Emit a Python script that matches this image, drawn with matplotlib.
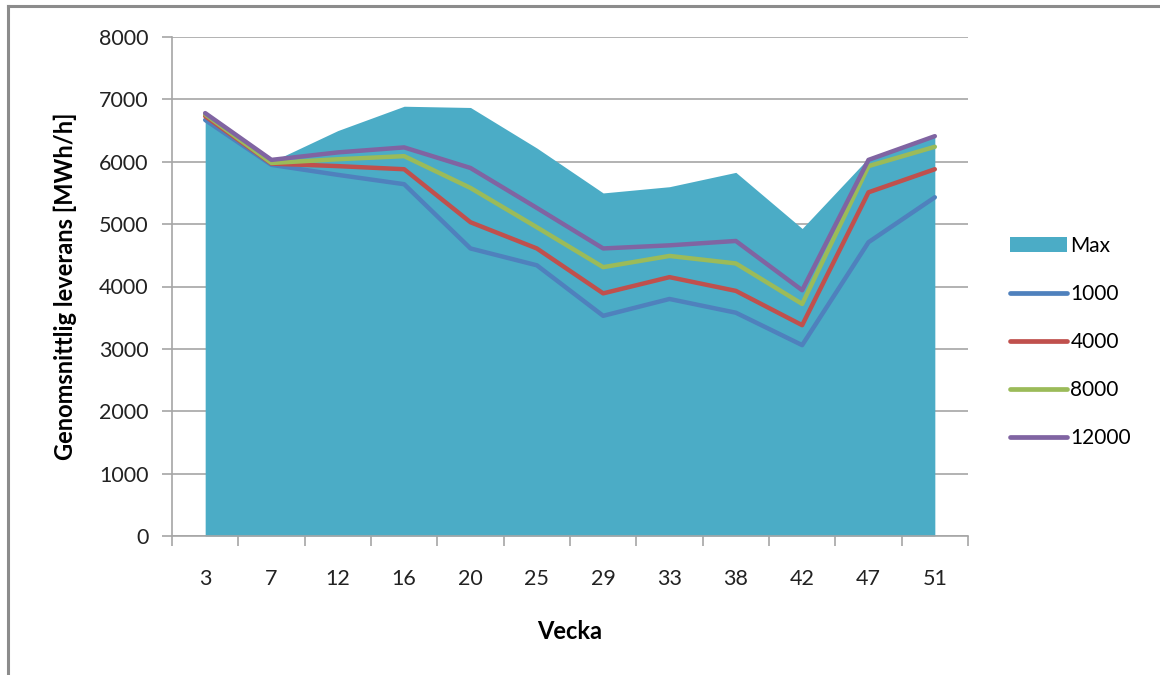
import numpy as np
import matplotlib.pyplot as plt
from matplotlib.lines import Line2D
from matplotlib.patches import Patch

plt.rcParams['font.family'] = ['Lato', 'DejaVu Sans']

weeks = ["3", "7", "12", "16", "20", "25", "29", "33", "38", "42", "47", "51"]
max_vals = [6700, 6000, 6500, 6890, 6870, 6220, 5500, 5600, 5830, 4930, 6060, 6430]
s1000 = [6670, 5950, 5790, 5640, 4610, 4340, 3530, 3800, 3580, 3060, 4710, 5430]
s4000 = [6730, 5970, 5930, 5880, 5030, 4610, 3890, 4150, 3930, 3380, 5510, 5880]
s8000 = [6760, 5980, 6040, 6090, 5580, 4950, 4310, 4490, 4370, 3720, 5930, 6240]
s12000 = [6780, 6030, 6150, 6230, 5900, 5260, 4610, 4660, 4730, 3940, 6030, 6410]

series = [("1000", s1000, "#4F81BD"),
          ("4000", s4000, "#C0504D"),
          ("8000", s8000, "#9BBB59"),
          ("12000", s12000, "#8064A2")]
area_color = "#4BACC6"
grid_color = "#A6A6A6"

fig = plt.figure(figsize=(11.6, 6.75), dpi=100)
ax = fig.add_axes([172 / 1160, 1 - 536 / 675, (968 - 172) / 1160, (536 - 37) / 675])

x = np.arange(len(weeks))
ax.fill_between(x, 0, max_vals, color=area_color, lw=0, zorder=2)
for name, vals, col in series:
    ax.plot(x, vals, color=col, lw=3.2, solid_joinstyle='round', solid_capstyle='round', zorder=3)

ax.set_xlim(-0.5, len(weeks) - 0.5)
ax.set_ylim(0, 8000)
ax.set_yticks(np.arange(0, 8001, 1000))
ax.yaxis.grid(True, color=grid_color, lw=1.2, zorder=0)
ax.set_axisbelow(True)

ax.set_xticks(x)
ax.set_xticklabels(weeks)
ax.set_xticks(np.arange(-0.5, len(weeks)), minor=True)
ax.tick_params(axis='x', which='major', length=0, pad=24, labelsize=15.5, colors='#222222')
ax.tick_params(axis='x', which='minor', length=7, width=1.2, color=grid_color, direction='out')
ax.tick_params(axis='y', length=7, width=1.2, color=grid_color, pad=10, labelsize=15.5, labelcolor='#222222')

for side in ['top', 'right']:
    ax.spines[side].set_visible(False)
for side in ['left', 'bottom']:
    ax.spines[side].set_color(grid_color)
    ax.spines[side].set_linewidth(1.2)

ax.set_ylabel("Genomsnittlig leverans [MWh/h]", fontsize=17, fontweight='bold', labelpad=16)
ax.set_xlabel("Vecka", fontsize=17, fontweight='bold', labelpad=22)

handles = [Patch(facecolor=area_color, edgecolor='none', label="Max")]
for name, vals, col in series:
    handles.append(Line2D([0], [0], color=col, lw=3.4, solid_capstyle='round', label=name))
fig.legend(handles=handles, loc='upper left', bbox_to_anchor=(1010 / 1160, 1 - 236 / 675),
           frameon=False, fontsize=15, handlelength=2.75, handleheight=0.75,
           handletextpad=0.15, labelspacing=1.35, borderpad=0, borderaxespad=0)

# outer frame (only top and left visible in the crop)
fig.add_artist(Line2D([8 / 1160, 8 / 1160], [0, 1 - 6 / 675], color='#8C8C8C', lw=2.2))
fig.add_artist(Line2D([8 / 1160, 1], [1 - 6 / 675, 1 - 6 / 675], color='#8C8C8C', lw=2.2))

fig.savefig("out.png", dpi=100)
